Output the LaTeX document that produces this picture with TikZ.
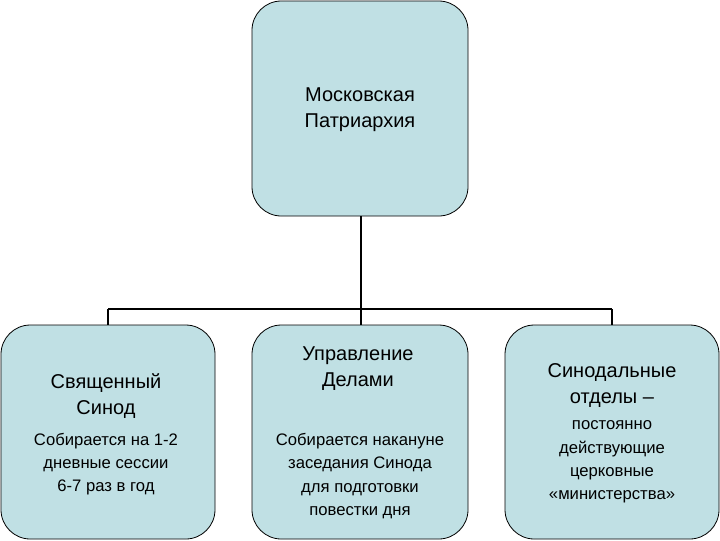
\documentclass[tikz,border=0pt]{standalone}
\usepackage{fontspec}
\setmainfont{Liberation Sans}
\definecolor{boxfill}{RGB}{192,224,228}
\begin{document}
\begin{tikzpicture}[x=0.75pt,y=-0.75pt,
 box/.style={draw=black,fill=boxfill,rounded corners=22pt,line width=0.6pt},
 big/.style={font=\fontsize{15}{19.5}\selectfont,align=center,inner sep=0},
 small/.style={font=\fontsize{12.5}{17.5}\selectfont,align=center,inner sep=0},
 conn/.style={line width=1.2pt}]
\useasboundingbox (0,0) rectangle (720,540);
\draw[box] (252,1) rectangle (468,216);
\draw[box] (1,325) rectangle (215,539);
\draw[box] (252,325) rectangle (468,539);
\draw[box] (505,325) rectangle (719,539);
\node[big] (top) at (360,110) {Московская\\Патриархия};
\coordinate (tb) at (361,216);
\coordinate (hj) at (361,309);
\coordinate (hl) at (108,309);
\coordinate (hr) at (612,309);
\coordinate (lt) at (108,325);
\coordinate (mt) at (361,325);
\coordinate (rt) at (612,325);
\draw[line width=2.2pt] (tb) -- (hj);
\draw[conn] (hl) -- (hr);
\draw[conn] (hl) -- (lt);
\draw[conn] (hj) -- (mt);
\draw[conn] (hr) -- (rt);
\node[big] (l1) at (106,396) {Священный\\Синод};
\node[small] (l2) at (106,464) {Собирается на 1-2\\дневные сессии\\6-7 раз в год};
\node[big] (m1) at (358,369) {Управление\\Делами};
\node[small] (m2) at (360,476) {Собирается накануне\\заседания Синода\\для подготовки\\повестки дня};
\node[big] (r1) at (612,385) {Синодальные\\отделы –};
\node[small] (r2) at (612,462) {постоянно\\действующие\\церковные\\«министерства»};
\end{tikzpicture}
\end{document}
